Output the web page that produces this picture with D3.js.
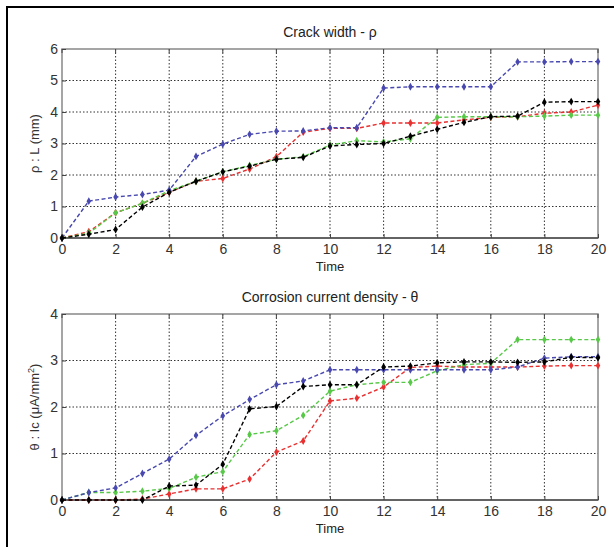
<!DOCTYPE html>
<html>
<head>
<meta charset="utf-8">
<script src="https://cdn.jsdelivr.net/npm/d3@7"></script>
<style>
  body { margin: 0; background: #fff; }
  svg { font-family: "Liberation Sans", Arial, sans-serif; }
</style>
</head>
<body>
<svg id="chart" width="614" height="547"></svg>
<script>
// time steps shared by both panels
const time = d3.range(0, 21);
const xTicks = [0, 2, 4, 6, 8, 10, 12, 14, 16, 18, 20];

// crack width (top panel)
const crackBlue  = [0, 1.17, 1.3, 1.38, 1.52, 2.59, 2.98, 3.29, 3.39, 3.4, 3.5, 3.5, 4.76, 4.8, 4.8, 4.8, 4.8, 5.59, 5.59, 5.6, 5.6];
const crackRed   = [0, 0.2, 0.8, 1.1, 1.45, 1.8, 1.89, 2.19, 2.58, 3.36, 3.48, 3.48, 3.65, 3.65, 3.65, 3.75, 3.83, 3.85, 3.96, 4.0, 4.22];
const crackGreen = [0, 0.15, 0.8, 1.1, 1.5, 1.8, 2.1, 2.3, 2.5, 2.58, 2.95, 3.09, 3.05, 3.15, 3.83, 3.85, 3.85, 3.85, 3.87, 3.9, 3.9];
const crackBlack = [0, 0.12, 0.27, 0.98, 1.45, 1.8, 2.1, 2.28, 2.5, 2.56, 2.92, 2.97, 3.0, 3.23, 3.45, 3.67, 3.85, 3.87, 4.31, 4.33, 4.33];
const crackTicks = [0, 1, 2, 3, 4, 5, 6];

// corrosion current density (bottom panel)
const corrBlue  = [0, 0.16, 0.26, 0.57, 0.88, 1.39, 1.81, 2.16, 2.48, 2.56, 2.8, 2.8, 2.8, 2.8, 2.8, 2.8, 2.8, 2.86, 3.05, 3.08, 3.08];
const corrRed   = [0, 0, 0, 0.02, 0.13, 0.24, 0.24, 0.45, 1.03, 1.27, 2.13, 2.19, 2.43, 2.85, 2.88, 2.86, 2.86, 2.86, 2.88, 2.89, 2.89];
const corrGreen = [0, 0.16, 0.16, 0.19, 0.25, 0.49, 0.61, 1.41, 1.49, 1.82, 2.34, 2.48, 2.53, 2.53, 2.78, 2.91, 2.94, 3.45, 3.45, 3.45, 3.45];
const corrBlack = [0, 0, 0, 0, 0.3, 0.32, 0.77, 1.96, 2.01, 2.44, 2.48, 2.48, 2.86, 2.88, 2.95, 2.97, 2.97, 2.96, 2.97, 3.07, 3.06];
const corrTicks = [0, 1, 2, 3, 4];

const colors = { blue: "#4848b0", red: "#e83030", green: "#58c848", black: "#000" };

const svg = d3.select("#chart");

// frame lines (left and top only)
svg.append("line").attr("x1", 6).attr("x2", 614).attr("y1", 7).attr("y2", 7)
  .attr("stroke", "#000").attr("stroke-width", 2);
svg.append("line").attr("x1", 7).attr("x2", 7).attr("y1", 6).attr("y2", 547)
  .attr("stroke", "#000").attr("stroke-width", 2);

function panel(opts) {
  const x = d3.scaleLinear().domain([0, 20]).range([62, 598]);
  const y = d3.scaleLinear().domain([0, opts.yMax]).range([opts.bottom, opts.top]);
  const g = svg.append("g");

  // grid
  g.selectAll(".vgrid").data(xTicks.slice(1, -1)).join("line")
    .attr("x1", d => x(d)).attr("x2", d => x(d))
    .attr("y1", opts.top).attr("y2", opts.bottom)
    .attr("stroke", "#333").attr("stroke-width", 1).attr("stroke-dasharray", "1.5,2");
  g.selectAll(".hgrid").data(opts.yTicks.slice(1, -1)).join("line")
    .attr("x1", 62).attr("x2", 598)
    .attr("y1", d => y(d)).attr("y2", d => y(d))
    .attr("stroke", "#333").attr("stroke-width", 1).attr("stroke-dasharray", "1.5,2");

  // box
  g.append("rect").attr("x", 62).attr("y", opts.top)
    .attr("width", 536).attr("height", opts.bottom - opts.top)
    .attr("fill", "none").attr("stroke", "#888").attr("stroke-width", 1.5);
  g.append("line").attr("x1", 62).attr("x2", 598)
    .attr("y1", opts.bottom).attr("y2", opts.bottom)
    .attr("stroke", "#222").attr("stroke-width", 1.2);

  // axes with inward ticks
  const xAxis = d3.axisBottom(x).tickValues(xTicks).tickSize(-4).tickPadding(6).tickFormat(d3.format("d"));
  const yAxis = d3.axisLeft(y).tickValues(opts.yTicks).tickSize(-4).tickPadding(4).tickFormat(d3.format("d"));
  const ax = g.append("g").attr("transform", `translate(0,${opts.bottom})`).call(xAxis);
  const ay = g.append("g").attr("transform", "translate(62,0)").call(yAxis);
  [ax, ay].forEach(a => {
    a.select(".domain").remove();
    a.selectAll("line").attr("stroke", "#444");
    a.selectAll("text").attr("font-size", 14).attr("fill", "#333")
      .attr("font-family", "\"Liberation Sans\", Arial, sans-serif");
  });
  g.selectAll(".xtop").data(xTicks).join("line")
    .attr("x1", d => x(d)).attr("x2", d => x(d))
    .attr("y1", opts.top).attr("y2", opts.top + 4).attr("stroke", "#444");

  // series
  const line = d3.line().x((d, i) => x(time[i])).y(d => y(d));
  opts.series.forEach(s => {
    g.append("path").datum(s.values)
      .attr("fill", "none").attr("stroke", s.color).attr("stroke-width", 1.4)
      .attr("stroke-dasharray", "4,2.5").attr("d", line);
    g.selectAll(null).data(s.values).join("path")
      .attr("transform", (d, i) => `translate(${x(time[i])},${y(d)})`)
      .attr("d", d3.symbol(d3.symbolDiamond, 18))
      .attr("fill", s.color);
  });

  // labels
  g.append("text").attr("x", 330).attr("y", opts.top - 12)
    .attr("text-anchor", "middle").attr("font-size", 14).attr("fill", "#222")
    .text(opts.title);
  g.append("text").attr("x", 330).attr("y", opts.bottom + 33)
    .attr("text-anchor", "middle").attr("font-size", 13).attr("fill", "#222")
    .text("Time");
  const yl = g.append("text")
    .attr("transform", `translate(${opts.ylx},${(opts.top + opts.bottom) / 2}) rotate(-90)`)
    .attr("text-anchor", "middle").attr("font-size", 13).attr("fill", "#333");
  opts.ylabel(yl);
}

panel({
  top: 49, bottom: 238, yMax: 6, yTicks: crackTicks,
  title: "Crack width - ρ", ylx: 39,
  ylabel: t => t.text("ρ : L (mm)"),
  series: [
    { values: crackRed, color: colors.red },
    { values: crackGreen, color: colors.green },
    { values: crackBlue, color: colors.blue },
    { values: crackBlack, color: colors.black }
  ]
});

panel({
  top: 314, bottom: 500, yMax: 4, yTicks: corrTicks,
  title: "Corrosion current density - θ", ylx: 39,
  ylabel: t => {
    t.append("tspan").text("θ : Ic (μA/mm");
    t.append("tspan").attr("dy", -5).attr("font-size", 9).text("2");
    t.append("tspan").attr("dy", 5).text(")");
  },
  series: [
    { values: corrRed, color: colors.red },
    { values: corrGreen, color: colors.green },
    { values: corrBlue, color: colors.blue },
    { values: corrBlack, color: colors.black }
  ]
});
</script>
</body>
</html>
